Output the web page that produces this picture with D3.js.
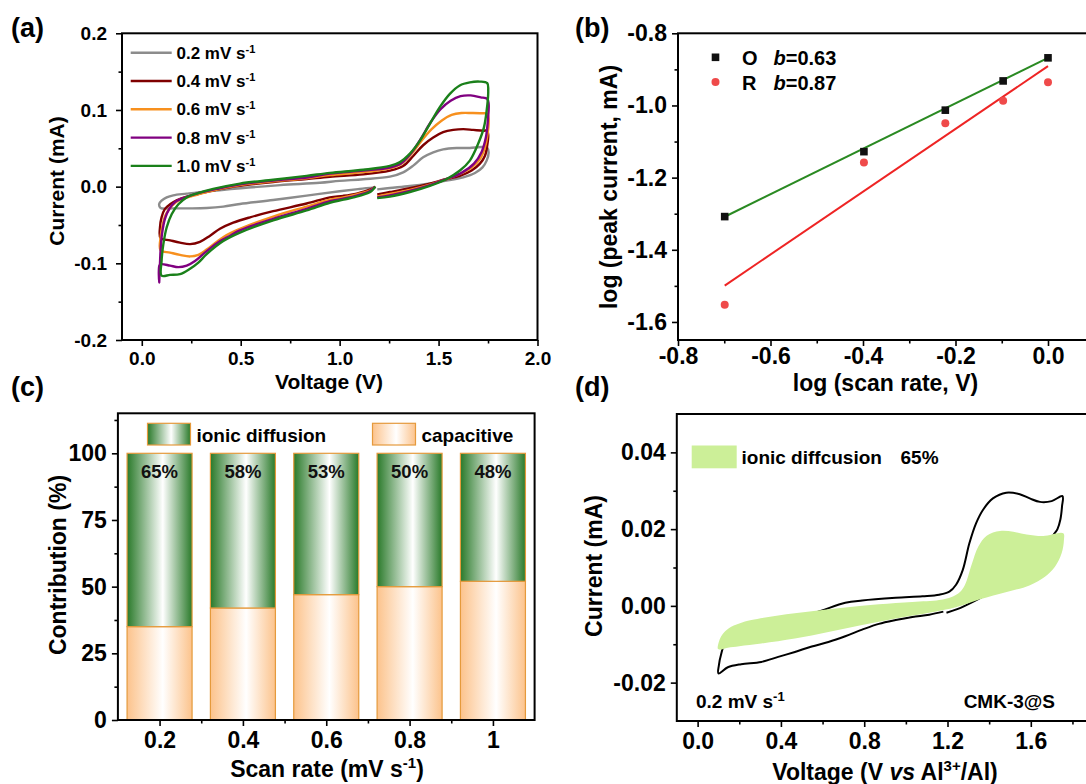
<!DOCTYPE html>
<html><head><meta charset="utf-8">
<script src="https://cdn.jsdelivr.net/npm/d3@7"></script>
<style>
html,body{margin:0;padding:0;background:#fff;}
svg{display:block;font-family:"Liberation Sans",Arial,Helvetica,sans-serif;font-weight:bold;}
</style></head><body>
<svg id="chart" width="1086" height="784"></svg>
<script>
// ---------------- DATA ----------------
// (a) CV curves [voltage V, current mA], in scan order
const cvLabels = ["0.2", "0.4", "0.6", "0.8", "1.0"];
const cvColors = ["#8c8c8c", "#7f0000", "#f7901e", "#800080", "#1a801a"];
const cv02 = [[1.180,-0.001],[1.100,-0.003],[1.000,-0.006],[0.833,-0.0117],[0.664,-0.0174],[0.496,-0.0226],[0.412,-0.026],[0.328,-0.0278],[0.244,-0.0283],[0.159,-0.0283],[0.095,-0.0278],[0.088,-0.0226],[0.100,-0.0183],[0.126,-0.014],[0.159,-0.0113],[0.227,-0.0091],[0.328,-0.0061],[0.500,-0.002],[0.700,0.002],[0.900,0.005],[1.000,0.0075],[1.119,0.0096],[1.254,0.013],[1.321,0.0187],[1.372,0.0274],[1.422,0.0383],[1.473,0.0448],[1.523,0.0487],[1.591,0.0504],[1.658,0.0504],[1.717,0.0517],[1.746,0.0504],[1.753,0.0448],[1.743,0.0339],[1.722,0.0252],[1.684,0.0178],[1.625,0.0122],[1.541,0.0078],[1.456,0.0043],[1.355,0.0009],[1.254,-0.0017],[1.190,-0.0035]];
const cv04 = [[1.180,0.000],[1.153,-0.004],[1.086,-0.009],[1.018,-0.012],[0.951,-0.014],[0.833,-0.022],[0.664,-0.032],[0.547,-0.040],[0.462,-0.047],[0.395,-0.055],[0.345,-0.064],[0.294,-0.072],[0.244,-0.075],[0.193,-0.073],[0.143,-0.070],[0.095,-0.067],[0.092,-0.053],[0.100,-0.040],[0.117,-0.029],[0.143,-0.023],[0.176,-0.018],[0.227,-0.013],[0.294,-0.009],[0.395,-0.003],[0.496,0.001],[0.664,0.006],[0.833,0.010],[0.951,0.013],[1.119,0.016],[1.254,0.021],[1.321,0.027],[1.372,0.040],[1.422,0.054],[1.473,0.064],[1.523,0.071],[1.574,0.074],[1.625,0.075],[1.675,0.074],[1.726,0.073],[1.746,0.073],[1.751,0.067],[1.746,0.054],[1.734,0.040],[1.709,0.030],[1.667,0.021],[1.608,0.014],[1.541,0.010],[1.456,0.004],[1.355,-0.002],[1.254,-0.007],[1.190,-0.010]];
const cv06 = [[1.180,0.000],[1.153,-0.005],[1.086,-0.010],[1.018,-0.014],[0.951,-0.017],[0.833,-0.026],[0.664,-0.039],[0.496,-0.055],[0.429,-0.063],[0.378,-0.072],[0.328,-0.082],[0.286,-0.089],[0.244,-0.091],[0.193,-0.089],[0.143,-0.086],[0.095,-0.083],[0.095,-0.066],[0.106,-0.049],[0.122,-0.036],[0.151,-0.025],[0.193,-0.017],[0.244,-0.013],[0.328,-0.007],[0.496,0.002],[0.664,0.007],[0.833,0.011],[0.951,0.015],[1.119,0.019],[1.254,0.024],[1.313,0.030],[1.364,0.043],[1.414,0.060],[1.465,0.075],[1.515,0.086],[1.566,0.0935],[1.616,0.096],[1.667,0.096],[1.718,0.0957],[1.746,0.095],[1.753,0.088],[1.748,0.069],[1.734,0.051],[1.709,0.036],[1.667,0.025],[1.608,0.0165],[1.541,0.010],[1.456,0.0026],[1.355,-0.0043],[1.254,-0.0096],[1.190,-0.0126]];
const cv08 = [[1.180,0.000],[1.153,-0.0056],[1.086,-0.0117],[1.018,-0.0157],[0.951,-0.019],[0.833,-0.029],[0.664,-0.042],[0.496,-0.057],[0.446,-0.064],[0.378,-0.074],[0.319,-0.086],[0.269,-0.097],[0.227,-0.103],[0.185,-0.105],[0.143,-0.103],[0.100,-0.101],[0.090,-0.102],[0.088,-0.125],[0.092,-0.100],[0.095,-0.0835],[0.102,-0.062],[0.117,-0.042],[0.139,-0.029],[0.168,-0.020],[0.210,-0.015],[0.277,-0.009],[0.378,-0.003],[0.496,0.003],[0.664,0.008],[0.833,0.012],[0.951,0.017],[1.119,0.021],[1.254,0.025],[1.308,0.030],[1.359,0.043],[1.409,0.062],[1.460,0.084],[1.510,0.101],[1.561,0.112],[1.611,0.118],[1.662,0.119],[1.713,0.1165],[1.746,0.1144],[1.753,0.108],[1.749,0.086],[1.739,0.064],[1.717,0.045],[1.679,0.030],[1.616,0.018],[1.541,0.010],[1.456,0.002],[1.355,-0.0056],[1.254,-0.0113],[1.190,-0.014]];
const cv10 = [[1.180,0.000],[1.160,-0.006],[1.100,-0.012],[1.020,-0.017],[0.950,-0.021],[0.833,-0.031],[0.664,-0.044],[0.496,-0.060],[0.412,-0.071],[0.328,-0.088],[0.286,-0.099],[0.244,-0.107],[0.193,-0.114],[0.143,-0.115],[0.100,-0.116],[0.100,-0.097],[0.109,-0.075],[0.126,-0.053],[0.151,-0.036],[0.185,-0.023],[0.227,-0.014],[0.277,-0.009],[0.361,-0.003],[0.496,0.004],[0.664,0.009],[0.833,0.014],[0.951,0.018],[1.119,0.022],[1.254,0.027],[1.305,0.032],[1.355,0.043],[1.406,0.060],[1.456,0.082],[1.507,0.104],[1.557,0.121],[1.607,0.132],[1.658,0.136],[1.709,0.137],[1.746,0.135],[1.751,0.125],[1.743,0.099],[1.729,0.077],[1.700,0.056],[1.658,0.034],[1.608,0.021],[1.541,0.010],[1.456,0.001],[1.355,-0.007],[1.254,-0.013],[1.190,-0.015]];
const cvSeries = [cv02, cv04, cv06, cv08, cv10];
const aXTicks = [0, 0.5, 1.0, 1.5, 2.0];
const aXTickLabels = ["0.0", "0.5", "1.0", "1.5", "2.0"];
const aYTicks = [-0.2, -0.1, 0.0, 0.1, 0.2];
const aYTickLabels = ["-0.2", "-0.1", "0.0", "0.1", "0.2"];

// (b) log-log peak currents
const logScanRate = [-0.699, -0.398, -0.222, -0.097, 0.0];
const logPeakO = [-1.308, -1.128, -1.013, -0.932, -0.868];
const logPeakR = [-1.552, -1.158, -1.049, -0.987, -0.936];
const fitO = {slope: 0.63, intercept: -0.868};
const fitR = {slope: 0.87, intercept: -0.891};
const bLegend = [{name: "O", b: "0.63"}, {name: "R", b: "0.87"}];
const bXTicks = [-0.8, -0.6, -0.4, -0.2, 0.0];
const bXTickLabels = ["-0.8", "-0.6", "-0.4", "-0.2", "0.0"];
const bYTicks = [-1.6, -1.4, -1.2, -1.0, -0.8];
const bYTickLabels = ["-1.6", "-1.4", "-1.2", "-1.0", "-0.8"];

// (c) contribution bars
const scanRates = [0.2, 0.4, 0.6, 0.8, 1.0];
const diffusionPct = [65, 58, 53, 50, 48];
const capacitivePct = [35, 42, 47, 50, 52];
const cXTickLabels = ["0.2", "0.4", "0.6", "0.8", "1"];
const cYTicks = [0, 25, 50, 75, 100];
const cYTickLabels = ["0", "25", "50", "75", "100"];

// (d) CV at 0.2 mV/s with diffusion-controlled region
const cvBlack = [[1.180,-0.0015],[1.112,-0.0023],[1.031,-0.0029],[0.951,-0.0037],[0.870,-0.0047],[0.790,-0.0062],[0.709,-0.0079],[0.628,-0.0094],[0.548,-0.0106],[0.467,-0.0120],[0.387,-0.0133],[0.306,-0.0146],[0.209,-0.0152],[0.145,-0.0160],[0.100,-0.0176],[0.102,-0.0155],[0.112,-0.0128],[0.135,-0.0095],[0.258,-0.0055],[0.387,-0.0035],[0.548,-0.0020],[0.709,0.0008],[0.790,0.0014],[0.951,0.0021],[1.080,0.0025],[1.160,0.0029],[1.209,0.0037],[1.241,0.0055],[1.273,0.0093],[1.305,0.0163],[1.337,0.0215],[1.370,0.0250],[1.418,0.0280],[1.482,0.0295],[1.547,0.0291],[1.595,0.0280],[1.644,0.0271],[1.700,0.0273],[1.752,0.0286],[1.750,0.0260],[1.742,0.0225],[1.728,0.0200],[1.708,0.0184],[1.668,0.0130],[1.596,0.0090],[1.484,0.0055],[1.356,0.0020],[1.250,-0.0008],[1.195,-0.0018]];
const diffUpper = [[0.097,-0.0112],[0.103,-0.0092],[0.118,-0.0075],[0.150,-0.0058],[0.200,-0.0046],[0.258,-0.0037],[0.387,-0.0025],[0.548,-0.0014],[0.709,-0.0004],[0.870,0.0004],[1.031,0.0010],[1.160,0.0015],[1.220,0.0023],[1.260,0.0036],[1.284,0.0055],[1.316,0.0108],[1.348,0.0155],[1.388,0.0183],[1.452,0.0195],[1.516,0.0193],[1.580,0.0186],[1.660,0.0182],[1.756,0.0189]];
const diffLower = [[1.759,0.0171],[1.748,0.0137],[1.716,0.0102],[1.668,0.0076],[1.596,0.0054],[1.484,0.0036],[1.356,0.0017],[1.244,-0.0003],[1.112,-0.0018],[0.951,-0.0033],[0.790,-0.0050],[0.628,-0.0068],[0.467,-0.0085],[0.306,-0.0098],[0.200,-0.0105],[0.145,-0.0109],[0.105,-0.0114]];
const diffShare = "65%";
const dXTicks = [0.0, 0.4, 0.8, 1.2, 1.6];
const dXTickLabels = ["0.0", "0.4", "0.8", "1.2", "1.6"];
const dYTicks = [-0.02, 0.0, 0.02, 0.04];
const dYTickLabels = ["-0.02", "0.00", "0.02", "0.04"];

// ---------------- DRAWING ----------------
const svg = d3.select("#chart");
const defs = svg.append("defs");
svg.append("rect").attr("width", 1086).attr("height", 784).attr("fill", "#fff");

function grad(id, edge, mid) {
  const lg = defs.append("linearGradient").attr("id", id)
    .attr("x1", "0%").attr("x2", "100%").attr("y1", "0%").attr("y2", "0%");
  lg.append("stop").attr("offset", "0%").attr("stop-color", edge);
  lg.append("stop").attr("offset", "55%").attr("stop-color", mid);
  lg.append("stop").attr("offset", "100%").attr("stop-color", edge);
}
grad("gGreen", "#2a7a2a", "#ffffff");
grad("gOrange", "#fcc38c", "#ffffff");

function drawAxes(g, x, y, o) {
  const [xa, xb] = x.range(), [ya, yb] = y.range();
  const lab = (ticks, labels) => (d => labels[ticks.indexOf(d)]);
  const parts = [
    g.append("g").attr("transform", `translate(0,${ya})`)
      .call(d3.axisBottom(x).tickValues(o.xMinor).tickSize(3.5).tickSizeOuter(0).tickFormat("")),
    g.append("g").attr("transform", `translate(0,${ya})`)
      .call(d3.axisBottom(x).tickValues(o.xTicks).tickSize(6).tickSizeOuter(0).tickPadding(o.xPad).tickFormat(lab(o.xTicks, o.xLabels))),
    g.append("g").attr("transform", `translate(${xa},0)`)
      .call(d3.axisLeft(y).tickValues(o.yMinor).tickSize(3.5).tickSizeOuter(0).tickFormat("")),
    g.append("g").attr("transform", `translate(${xa},0)`)
      .call(d3.axisLeft(y).tickValues(o.yTicks).tickSize(6).tickSizeOuter(0).tickPadding(o.yPad).tickFormat(lab(o.yTicks, o.yLabels)))
  ];
  parts.forEach(p => {
    p.attr("font-size", null).attr("font-family", null);
    p.select(".domain").remove();
    p.selectAll(".tick line").attr("stroke", "#000").attr("stroke-width", 1.6);
    p.selectAll(".tick text").attr("fill", "#000").attr("font-size", o.fs).attr("font-weight", "bold");
  });
  g.append("rect").attr("x", xa).attr("y", yb).attr("width", xb - xa).attr("height", ya - yb)
    .attr("fill", "none").attr("stroke", "#000").attr("stroke-width", 2);
}

function rich(g, x, y, parts, fs, anchor) {
  const t = g.append("text").attr("x", x).attr("y", y).attr("font-size", fs)
    .attr("text-anchor", anchor || "start").attr("fill", "#000");
  let shift = 0;
  parts.forEach(p => {
    const sp = t.append("tspan").text(p.t);
    if (p.sup) {
      const up = Math.round(fs * 0.38);
      sp.attr("font-size", Math.round(fs * 0.66)).attr("dy", -up - shift);
      shift = -up;
    } else {
      if (shift !== 0) { sp.attr("dy", -shift); shift = 0; }
    }
    if (p.it) sp.attr("font-style", "italic");
  });
  return t;
}
function rotTitle(g, x, y, parts, fs) {
  const t = rich(g, 0, 0, parts, fs, "middle");
  t.attr("transform", `translate(${x},${y}) rotate(-90)`);
}

// panel letters
[["(a)", 11, 37], ["(b)", 575, 37], ["(c)", 11, 396], ["(d)", 575, 396]].forEach(p =>
  svg.append("text").attr("x", p[1]).attr("y", p[2]).attr("font-size", 27).text(p[0]));

// ---------- (a) ----------
{
  const g = svg.append("g");
  const x = d3.scaleLinear().domain([-0.1, 2.0]).range([122, 537.5]);
  const y = d3.scaleLinear().domain([-0.2, 0.2]).range([340, 33.3]);
  const line = d3.line().x(d => x(d[0])).y(d => y(d[1])).curve(d3.curveCatmullRom.alpha(0.5));
  cvSeries.forEach((s, i) => g.append("path").attr("d", line(s)).attr("fill", "none")
    .attr("stroke", cvColors[i]).attr("stroke-width", 2.4).attr("stroke-linejoin", "round"));
  drawAxes(g, x, y, {xTicks: aXTicks, xLabels: aXTickLabels, xMinor: [0.25, 0.75, 1.25, 1.75],
    yTicks: aYTicks, yLabels: aYTickLabels, yMinor: [-0.15, -0.05, 0.05, 0.15], fs: 19, xPad: 6, yPad: 9});
  // legend
  cvLabels.forEach((l, i) => {
    const yy = 52.7 + i * 28.3;
    g.append("line").attr("x1", 130.7).attr("x2", 171.7).attr("y1", yy).attr("y2", yy)
      .attr("stroke", cvColors[i]).attr("stroke-width", 2.4);
    rich(g, 176.5, yy + 6, [{t: l + " mV s"}, {t: "-1", sup: true}], 17);
  });
  rich(g, 329, 389, [{t: "Voltage (V)"}], 21, "middle");
  rotTitle(g, 64, 181, [{t: "Current (mA)"}], 21);
}

// ---------- (b) ----------
{
  const g = svg.append("g");
  const x = d3.scaleLinear().domain([-0.8, 0.1]).range([678, 1094.25]);
  const y = d3.scaleLinear().domain([-1.65, -0.8]).range([340, 33.3]);
  const xs = [logScanRate[0], logScanRate[logScanRate.length - 1]];
  const fitLine = f => d3.line().x(d => x(d)).y(d => y(f.intercept + f.slope * d))(xs);
  g.append("path").attr("d", fitLine(fitR)).attr("stroke", "#ee2424").attr("stroke-width", 2).attr("fill", "none");
  g.append("path").attr("d", fitLine(fitO)).attr("stroke", "#2a8a22").attr("stroke-width", 2).attr("fill", "none");
  g.selectAll("circle.r").data(logScanRate).enter().append("circle")
    .attr("cx", d => x(d)).attr("cy", (d, i) => y(logPeakR[i])).attr("r", 4)
    .attr("fill", "#ef4a4a");
  g.selectAll("rect.o").data(logScanRate).enter().append("rect")
    .attr("x", d => x(d) - 3.8).attr("y", (d, i) => y(logPeakO[i]) - 3.8)
    .attr("width", 7.6).attr("height", 7.6).attr("fill", "#111");
  drawAxes(g, x, y, {xTicks: bXTicks, xLabels: bXTickLabels, xMinor: [-0.7, -0.5, -0.3, -0.1, 0.1],
    yTicks: bYTicks, yLabels: bYTickLabels, yMinor: [-1.5, -1.3, -1.1, -0.9], fs: 23, xPad: 2, yPad: 5});
  // legend
  g.append("rect").attr("x", 711.7).attr("y", 53.5).attr("width", 7.6).attr("height", 7.6).attr("fill", "#111");
  g.append("circle").attr("cx", 715.5).attr("cy", 82).attr("r", 4).attr("fill", "#ef4a4a");
  bLegend.forEach((l, i) => {
    const yy = 65 + i * 25;
    g.append("text").attr("x", 742).attr("y", yy).attr("font-size", 20).text(l.name);
    rich(g, 773.5, yy, [{t: "b", it: true}, {t: "=" + l.b}], 20);
  });
  rich(g, 885.5, 391, [{t: "log (scan rate, V)"}], 23, "middle");
  rotTitle(g, 617, 187, [{t: "log (peak current, mA)"}], 23);
}

// ---------- (c) ----------
{
  const g = svg.append("g");
  const x = d3.scaleLinear().domain([0.1, 1.1]).range([117.9, 534.6]);
  const y = d3.scaleLinear().domain([0, 115]).range([720, 413.3]);
  const bw = x(0.2 + 0.078) - x(0.2 - 0.078);
  const stroke = "#e59a3c";
  scanRates.forEach((r, i) => {
    g.append("rect").attr("x", x(r) - bw / 2).attr("width", bw)
      .attr("y", y(capacitivePct[i])).attr("height", y(0) - y(capacitivePct[i]))
      .attr("fill", "url(#gOrange)").attr("stroke", stroke).attr("stroke-width", 1.2);
    g.append("rect").attr("x", x(r) - bw / 2).attr("width", bw)
      .attr("y", y(capacitivePct[i] + diffusionPct[i])).attr("height", y(capacitivePct[i]) - y(capacitivePct[i] + diffusionPct[i]))
      .attr("fill", "url(#gGreen)").attr("stroke", stroke).attr("stroke-width", 1.2);
    g.append("text").attr("x", x(r)).attr("y", 478.3).attr("text-anchor", "middle")
      .attr("font-size", 18.5).attr("fill", "#111").text(diffusionPct[i] + "%");
  });
  drawAxes(g, x, y, {xTicks: scanRates, xLabels: cXTickLabels, xMinor: [0.3, 0.5, 0.7, 0.9],
    yTicks: cYTicks, yLabels: cYTickLabels, yMinor: [12.5, 37.5, 62.5, 87.5, 112.5], fs: 23, xPad: 6, yPad: 5});
  // legend
  g.append("rect").attr("x", 147.5).attr("y", 423.3).attr("width", 43).attr("height", 21.7)
    .attr("fill", "url(#gGreen)").attr("stroke", stroke).attr("stroke-width", 1.2);
  g.append("text").attr("x", 196.4).attr("y", 441.7).attr("font-size", 19).text("ionic diffusion");
  g.append("rect").attr("x", 372.5).attr("y", 423.3).attr("width", 43).attr("height", 21.7)
    .attr("fill", "url(#gOrange)").attr("stroke", stroke).attr("stroke-width", 1.2);
  g.append("text").attr("x", 421.4).attr("y", 441.7).attr("font-size", 19).text("capacitive");
  rich(g, 327, 777, [{t: "Scan rate (mV s"}, {t: "-1", sup: true}, {t: ")"}], 23, "middle");
  rotTitle(g, 66, 565, [{t: "Contribution (%)"}], 23);
}

// ---------- (d) ----------
{
  const g = svg.append("g");
  const x = d3.scaleLinear().domain([-0.1, 2.0]).range([676.8, 1114.1]);
  const y = d3.scaleLinear().domain([-0.03, 0.05]).range([721, 414]);
  const line = d3.line().x(d => x(d[0])).y(d => y(d[1])).curve(d3.curveCatmullRom.alpha(0.5));
  const area = d3.line().x(d => x(d[0])).y(d => y(d[1])).curve(d3.curveCatmullRomClosed.alpha(0.5));
  g.append("path").attr("d", line(cvBlack)).attr("fill", "none").attr("stroke", "#000").attr("stroke-width", 2);
  g.append("path").attr("d", area(diffUpper.concat(diffLower))).attr("fill", "#ccef98").attr("stroke", "none");
  drawAxes(g, x, y, {xTicks: dXTicks, xLabels: dXTickLabels, xMinor: [0.2, 0.6, 1.0, 1.4, 1.8],
    yTicks: dYTicks, yLabels: dYTickLabels, yMinor: [-0.01, 0.01, 0.03], fs: 23, xPad: 6, yPad: 5});
  g.append("rect").attr("x", 691.7).attr("y", 445.5).attr("width", 45).attr("height", 22.8).attr("fill", "#ccef98");
  g.append("text").attr("x", 741.5).attr("y", 463.5).attr("font-size", 19).text("ionic diffcusion");
  g.append("text").attr("x", 900.5).attr("y", 463.5).attr("font-size", 19).text(diffShare);
  rich(g, 696, 708, [{t: "0.2 mV s"}, {t: "-1", sup: true}], 19);
  g.append("text").attr("x", 1055).attr("y", 708).attr("font-size", 19).attr("text-anchor", "end").text("CMK-3@S");
  rich(g, 885, 780, [{t: "Voltage (V "}, {t: "vs", it: true}, {t: " Al"}, {t: "3+", sup: true}, {t: "/Al)"}], 23, "middle");
  rotTitle(g, 602, 566, [{t: "Current (mA)"}], 23);
}
</script>
</body></html>
